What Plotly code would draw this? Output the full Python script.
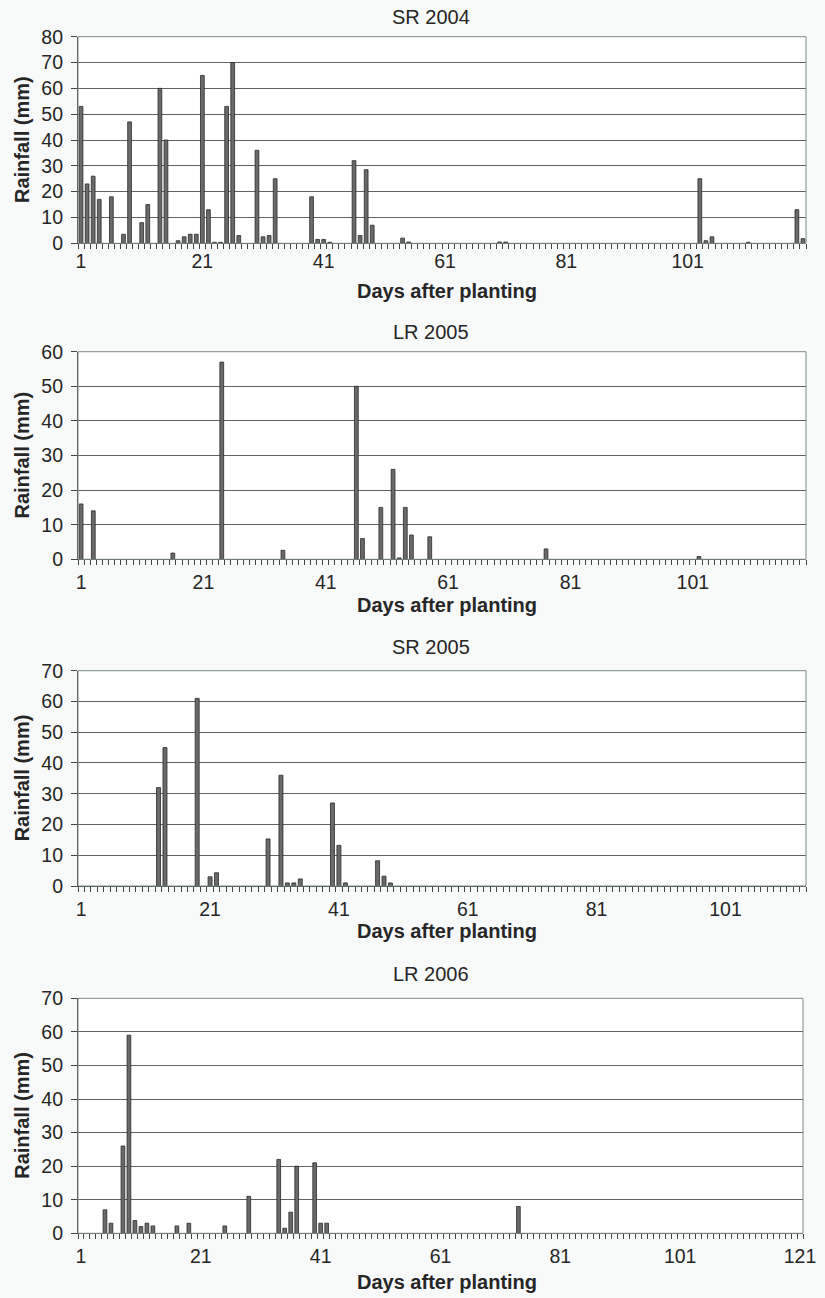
import plotly.graph_objects as go

# ---------------- data (day after planting, rainfall mm) ----------------
sr2004_days = [1, 2, 3, 4, 6, 8, 9, 11, 12, 14, 15, 17, 18, 19, 20, 21, 22, 23, 24, 25, 26, 27,
               30, 31, 32, 33, 39, 40, 41, 42, 46, 47, 48, 49, 54, 55, 70, 71, 103, 104, 105, 111, 119, 120]
sr2004_rain = [53, 23, 26, 17, 18, 3.5, 47, 8, 15, 60, 40, 1, 2.5, 3.5, 3.5, 65, 13, 0.4, 0.4, 53, 70, 3,
               36, 2.5, 3, 25, 18, 1.5, 1.5, 0.4, 32, 3, 28.5, 7, 2, 0.5, 0.5, 0.5, 25, 1, 2.5, 0.4, 13, 1.8]

lr2005_days = [1, 3, 16, 24, 34, 46, 47, 50, 52, 53, 54, 55, 58, 77, 102]
lr2005_rain = [16, 14, 1.8, 57, 2.6, 50, 6, 15, 26, 0.4, 15, 7, 6.5, 3, 0.8]

sr2005_days = [13, 14, 19, 21, 22, 30, 32, 33, 34, 35, 40, 41, 42, 47, 48, 49]
sr2005_rain = [32, 45, 61, 3, 4.3, 15.3, 36, 1, 1, 2.3, 27, 13.2, 1, 8.2, 3.2, 1]

lr2006_days = [5, 6, 8, 9, 10, 11, 12, 13, 17, 19, 25, 29, 34, 35, 36, 37, 40, 41, 42, 74]
lr2006_rain = [7, 3, 26, 59, 3.8, 2, 3, 2.2, 2.2, 3, 2.2, 11, 22, 1.5, 6.3, 20, 21, 3, 3, 8]

titles = ["SR 2004", "LR 2005", "SR 2005", "LR 2006"]
n_days = [120, 119, 113, 121]
y_max = [80, 60, 70, 70]
x_ticks_sr2004 = [1, 21, 41, 61, 81, 101]
x_ticks_lr2006 = [1, 21, 41, 61, 81, 101, 121]
y_title = "Rainfall (mm)"
x_title = "Days after planting"

series = [(sr2004_days, sr2004_rain), (lr2005_days, lr2005_rain),
          (sr2005_days, sr2005_rain), (lr2006_days, lr2006_rain)]
xticks = [x_ticks_sr2004, x_ticks_sr2004, x_ticks_sr2004, x_ticks_lr2006]

# ---------------- layout geometry (pixels) ----------------
W, H = 825, 1298
panels_px = [  # left, right, top, bottom
    (78, 806, 36.7, 243.3),
    (78, 806, 351.7, 559.3),
    (78, 806, 670.7, 886.0),
    (78, 803, 998.3, 1233.3),
]
title_y = [17.5, 332, 647, 974]
xtitle_y = [291, 605, 931, 1282]
label_gap = [0, 5, 5, 5]   # spacing between x axis and its tick labels

FONT = "Liberation Sans, Arial, sans-serif"
TXT = "#262626"
GRID = "#5d6663"
AX = "#454545"

fig = go.Figure()
layout = dict(
    width=W, height=H, margin=dict(l=0, r=0, t=0, b=0, autoexpand=False),
    paper_bgcolor="#f8fafa", plot_bgcolor="white",
    showlegend=False,
    font=dict(family=FONT, color=TXT, size=19),
)
annotations = []
shapes = []

for i, ((days, rain), (l, r, t, b)) in enumerate(zip(series, panels_px)):
    k = "" if i == 0 else str(i + 1)
    fig.add_trace(go.Bar(
        x=days, y=rain, xaxis="x" + k, yaxis="y" + k, width=0.62,
        marker=dict(color="#6a6a6a", line=dict(color="#2a2a2a", width=0.8)),
    ))
    n = n_days[i]
    layout["xaxis" + k] = dict(
        domain=[l / W, r / W], anchor="y" + k, range=[0.5, n + 0.5],
        tickmode="array", tickvals=xticks[i], ticktext=[str(v) for v in xticks[i]],
        ticks="outside" if label_gap[i] > 0 else "",
        ticklen=max(label_gap[i], 1), tickcolor="rgba(0,0,0,0)", tickwidth=1,
        minor=dict(tickmode="array", tickvals=[j + 0.5 for j in range(n + 1)],
                   ticks="outside", ticklen=5, tickcolor=AX, tickwidth=1),
        showgrid=False, zeroline=False, ticklabeloverflow="allow",
        showline=True, linecolor=AX, linewidth=1.2,
        tickfont=dict(family=FONT, size=19.5, color=TXT),
    )
    layout["yaxis" + k] = dict(
        domain=[1 - b / H, 1 - t / H], anchor="x" + k, range=[0, y_max[i]],
        tickmode="linear", tick0=0, dtick=10,
        ticks="outside", ticklen=6, tickcolor=AX, ticklabelstandoff=4,
        showgrid=True, gridcolor=GRID, gridwidth=1.1, zeroline=False,
        showline=True, linecolor=AX, linewidth=1.2,
        tickfont=dict(family=FONT, size=19.5, color=TXT),
    )
    # frame top/right
    shapes.append(dict(type="rect", xref="x" + k + " domain", yref="y" + k + " domain",
                       x0=0, x1=1, y0=0, y1=1, line=dict(color="#7d8a88", width=1)))
    annotations.append(dict(text=titles[i], x=431 / W, y=1 - title_y[i] / H,
                            xref="paper", yref="paper", showarrow=False,
                            xanchor="center", yanchor="middle",
                            font=dict(family=FONT, size=20, color=TXT)))
    annotations.append(dict(text="<b>" + x_title + "</b>", x=447 / W, y=1 - xtitle_y[i] / H,
                            xref="paper", yref="paper", showarrow=False,
                            xanchor="center", yanchor="middle",
                            font=dict(family=FONT, size=20, color=TXT)))
    annotations.append(dict(text="<b>" + y_title + "</b>", x=22 / W, y=1 - ((t + b) / 2) / H,
                            xref="paper", yref="paper", showarrow=False, textangle=-90,
                            xanchor="center", yanchor="middle",
                            font=dict(family=FONT, size=20, color=TXT)))

layout["annotations"] = annotations
layout["shapes"] = shapes
fig.update_layout(**layout)
fig.write_html("out.html", config={"displayModeBar": False})

# pin the page to exactly the figure size (no body margin, no extra flow height)
css = ("<style>html,body{margin:0;padding:0;width:825px;height:1298px;overflow:hidden;}"
       ".plotly-graph-div{position:absolute;top:0;left:0;}</style>")
with open("out.html", encoding="utf-8") as f:
    html = f.read()
if "</head>" in html:
    html = html.replace("</head>", css + "</head>", 1)
else:
    html = html.replace("<body>", "<head>" + css + "</head><body>", 1)
with open("out.html", "w", encoding="utf-8") as f:
    f.write(html)
